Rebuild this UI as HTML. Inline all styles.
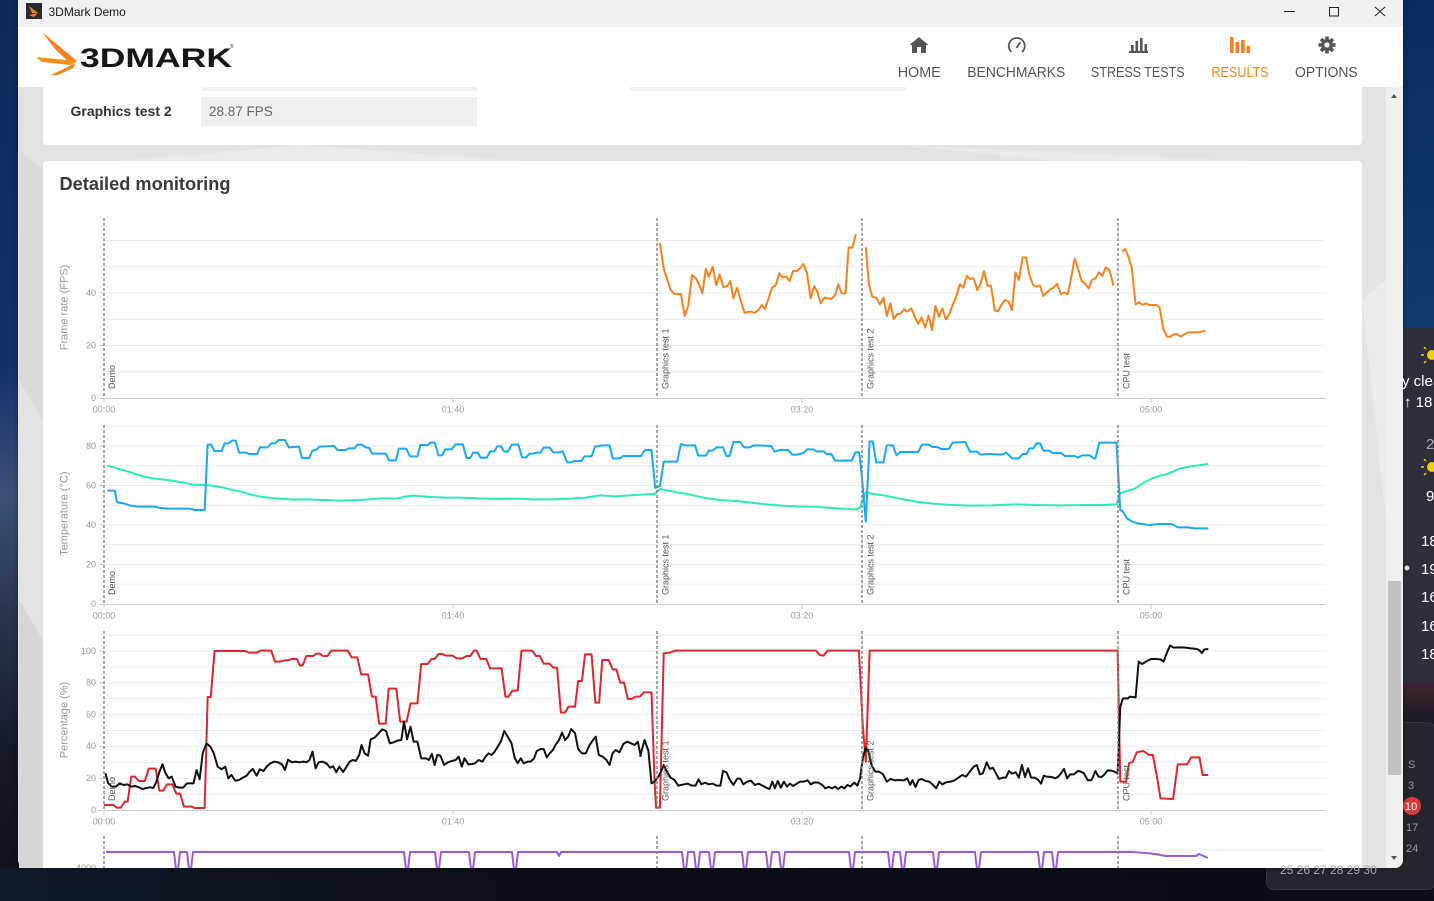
<!DOCTYPE html>
<html><head><meta charset="utf-8">
<style>
html,body{margin:0;padding:0;background:#0c0f18;}
body{width:1434px;height:901px;overflow:hidden;position:relative;background:#0c0f18;font-family:"Liberation Sans",sans-serif;}
.abs{position:absolute;}
</style></head>
<body>
<!-- desktop -->
<div class="abs" style="left:0;top:0;width:19px;height:901px;background-color:#13284a;background-image:linear-gradient(#0d2a57 0%,#12306a 40%,#3d5077 55%,#2a3550 68%,#141824 85%,#0e111b 100%);"></div>
<div class="abs" style="left:1403px;top:0;width:31px;height:330px;background-color:#0d3168;background-image:linear-gradient(#0a2b62,#123a72);"></div>
<div class="abs" style="left:1403px;top:328px;width:31px;height:354px;background:#2c303b;"></div>
<div class="abs" style="left:1403px;top:682px;width:31px;height:42px;background-color:#2a2029;background-image:linear-gradient(#3b2633,#1c1a22);"></div>
<div class="abs" style="left:1266px;top:722px;width:168px;height:166px;background:#23262e;border-radius:8px;border:1px solid #34373f;"></div>
<div class="abs" style="left:0;top:868px;width:1266px;height:33px;background-color:#0d1019;background-image:linear-gradient(90deg,#0f1a28,#0c0f18 40%,#0b0d14);"></div>

<!-- window -->
<div class="abs" style="left:18px;top:0;width:1385px;height:868px;border-radius:0 0 8px 8px;overflow:hidden;background:#e3e3e3;box-shadow:0 0 6px rgba(0,0,0,.4);">
  <div class="abs" style="left:0;top:0;width:1385px;height:27px;background:#eef0f4;"></div>
  <div class="abs" style="left:0;top:27px;width:1385px;height:60px;background:#fff;"></div>
  <div class="abs" style="left:1368px;top:87px;width:17px;height:781px;background:#f0f0f0;"></div>
  <div class="abs" style="left:1370px;top:581px;width:13px;height:194px;background:#c2c2c2;"></div>
  <div class="abs" style="left:25px;top:87px;width:1319px;height:58px;background:#fff;border-radius:0 0 4px 4px;"></div>
  <div class="abs" style="left:25px;top:161px;width:1319px;height:720px;background:#fff;border-radius:4px;"></div>
</div>

<svg class="abs" style="left:0;top:0" width="1434" height="901" viewBox="0 0 1434 901" font-family="Liberation Sans, sans-serif">
<defs>
  <clipPath id="win"><rect x="18" y="0" width="1385" height="868"/></clipPath>
</defs>

<!-- background subtle polygons -->
<g clip-path="url(#win)">
  <polygon points="19,150 43,170 43,420 19,380" fill="#dadada"/>
  <polygon points="19,600 43,640 43,868 19,868" fill="#d6d6d6"/>
  <polygon points="300,145 520,161 120,161" fill="#ebebeb"/>
  <polygon points="900,145 1250,161 1060,161" fill="#e9e9e9"/>
  <polygon points="1362,300 1386,280 1386,520" fill="#ebebeb"/>
</g>

<!-- title bar -->
<rect x="26" y="3" width="16" height="16" fill="#2b2b2b"/>
<polygon points="29,6 38,13 32,13" fill="#f5821f"/>
<polygon points="29,15 38,13 34,17" fill="#f5821f"/>
<text x="48.5" y="16" font-size="12" fill="#1a1a1a">3DMark Demo</text>
<line x1="1284" y1="11.5" x2="1295" y2="11.5" stroke="#222" stroke-width="1"/>
<rect x="1329.5" y="7.5" width="9" height="8.5" fill="none" stroke="#222" stroke-width="1"/>
<path d="M1375,7 L1385,16 M1385,7 L1375,16" stroke="#222" stroke-width="1"/>

<!-- logo -->
<polygon points="42,32 77,61 69,62 55,49" fill="#f5821f"/>
<polygon points="36,57 77,61 71,65 42,62" fill="#f39019"/>
<polygon points="51,75 76,63 73,68 58,75" fill="#f5821f"/>
<text x="80" y="67" font-size="27" font-weight="bold" fill="#161616" textLength="152" lengthAdjust="spacingAndGlyphs">3DMARK</text>
<text x="230" y="48" font-size="5" fill="#333">®</text>

<!-- nav icons -->
<g fill="#555">
  <polygon points="909.5,45 919,37 928.5,45"/>
  <rect x="912" y="44" width="14" height="9"/>
  <rect x="917" y="47" width="4" height="6" fill="#fff"/>
</g>
<path d="M1011.5,52 A8,8 0 1 1 1022,52" fill="none" stroke="#555" stroke-width="1.8"/>
<line x1="1016.5" y1="48" x2="1020.5" y2="42" stroke="#555" stroke-width="1.8"/>
<g fill="#555">
  <rect x="1129" y="51" width="19" height="2"/>
  <rect x="1131" y="45" width="2.6" height="6"/>
  <rect x="1135.5" y="41" width="2.6" height="10"/>
  <rect x="1140" y="38" width="2.6" height="13"/>
  <rect x="1144.5" y="44" width="2.6" height="7"/>
</g>
<g fill="#f5821f">
  <rect x="1230" y="37" width="3.6" height="16"/>
  <rect x="1235.5" y="42" width="3.6" height="11"/>
  <rect x="1241" y="40" width="3.6" height="13"/>
  <rect x="1246.5" y="46" width="3.6" height="7"/>
</g>
<g transform="translate(1327,45)" fill="#555">
  <circle r="6"/>
  <rect x="-1.8" y="-8.5" width="3.6" height="17"/>
  <rect x="-1.8" y="-8.5" width="3.6" height="17" transform="rotate(45)"/>
  <rect x="-1.8" y="-8.5" width="3.6" height="17" transform="rotate(90)"/>
  <rect x="-1.8" y="-8.5" width="3.6" height="17" transform="rotate(135)"/>
  <circle r="2.6" fill="#fff"/>
</g>
<g font-size="14.5" fill="#555">
  <text x="897.7" y="77" textLength="43" lengthAdjust="spacingAndGlyphs">HOME</text>
  <text x="967.3" y="77" textLength="98" lengthAdjust="spacingAndGlyphs">BENCHMARKS</text>
  <text x="1091" y="77" textLength="93.6" lengthAdjust="spacingAndGlyphs">STRESS TESTS</text>
  <text x="1211.4" y="77" textLength="57.3" lengthAdjust="spacingAndGlyphs" fill="#f5821f">RESULTS</text>
  <text x="1295" y="77" textLength="62.7" lengthAdjust="spacingAndGlyphs">OPTIONS</text>
</g>

<!-- top card -->
<rect x="201" y="87" width="276" height="4" fill="#efefef"/>
<rect x="630" y="87" width="276" height="4" fill="#efefef"/>
<rect x="201" y="97" width="276" height="29" fill="#efefef"/>
<text x="70.5" y="116" font-size="14" font-weight="bold" fill="#333">Graphics test 2</text>
<text x="209" y="116" font-size="13.5" fill="#666">28.87 FPS</text>

<!-- scroll arrows -->
<polygon points="1391,98 1397,98 1394,94" fill="#555"/>
<polygon points="1391,856 1397,856 1394,860" fill="#555"/>

<!-- detailed monitoring -->
<text x="59.5" y="190" font-size="18.5" font-weight="bold" fill="#3a3a3a" textLength="171" lengthAdjust="spacingAndGlyphs">Detailed monitoring</text>

<g clip-path="url(#win)">
<!-- gridlines -->
<g stroke="#ebebeb" stroke-width="1">
  <path d="M104,240.5H1326M104,266.75H1326M104,293H1326M104,319.25H1326M104,345.5H1326M104,371.75H1326"/>
  <path d="M104,426.25H1326M104,446H1326M104,465.75H1326M104,485.5H1326M104,505.25H1326M104,525H1326M104,544.75H1326M104,564.5H1326M104,584.25H1326"/>
  <path d="M104,635.1H1326M104,651H1326M104,666.9H1326M104,682.8H1326M104,698.7H1326M104,714.6H1326M104,730.5H1326M104,746.4H1326M104,762.3H1326M104,778.2H1326M104,794.1H1326"/>
  <path d="M104,850H1326"/>
</g>
<!-- axes -->
<g stroke="#cfcfcf" stroke-width="1">
  <path d="M104,398.5H1326M104,604.5H1326M104,810.5H1326"/>
  <path d="M104,398V403M453,398V403M802,398V403M1151,398V403"/>
  <path d="M104,604V609M453,604V609M802,604V609M1151,604V609"/>
  <path d="M104,810V815M453,810V815M802,810V815M1151,810V815"/>
  <path d="M99,398.5H104M99,345.5H104M99,293H104"/>
  <path d="M99,604.5H104M99,564.5H104M99,525H104M99,485.5H104M99,446H104"/>
  <path d="M99,810.5H104M99,778.2H104M99,746.4H104M99,714.6H104M99,682.8H104M99,651H104"/>
</g>
<!-- tick labels -->
<g font-size="9" fill="#999" text-anchor="end">
  <text x="96" y="401">0</text><text x="96" y="348.5">20</text><text x="96" y="296">40</text>
  <text x="96" y="607">0</text><text x="96" y="567.5">20</text><text x="96" y="528">40</text><text x="96" y="488.5">60</text><text x="96" y="449">80</text>
  <text x="96" y="813">0</text><text x="96" y="781">20</text><text x="96" y="749">40</text><text x="96" y="717.5">60</text><text x="96" y="685.5">80</text><text x="96" y="654">100</text>
  <text x="96" y="871">4000</text>
</g>
<g font-size="9" fill="#999" text-anchor="middle">
  <text x="104" y="412.5">00:00</text><text x="453" y="412.5">01:40</text><text x="802" y="412.5">03:20</text><text x="1151" y="412.5">05:00</text>
  <text x="104" y="618.5">00:00</text><text x="453" y="618.5">01:40</text><text x="802" y="618.5">03:20</text><text x="1151" y="618.5">05:00</text>
  <text x="104" y="824.5">00:00</text><text x="453" y="824.5">01:40</text><text x="802" y="824.5">03:20</text><text x="1151" y="824.5">05:00</text>
</g>
<!-- axis titles -->
<g font-size="11" fill="#999" text-anchor="middle">
  <text transform="translate(67.5,307.5) rotate(-90)">Frame rate (FPS)</text>
  <text transform="translate(67.5,513.7) rotate(-90)">Temperature (°C)</text>
  <text transform="translate(67.5,720) rotate(-90)">Percentage (%)</text>
</g>

<!-- series chart 1 -->
<g transform="translate(640,215) scale(0.3827,0.3333)" fill="none" stroke="#f5821f" stroke-width="2" stroke-linejoin="round">
<polyline vector-effect="non-scaling-stroke" points="52,85 62,160 80,225 90,237 107,237 117,303 126,272 136,180 145,188 155,210 163,235 172,162 180,185 190,155 199,210 208,178 218,217 228,213 236,198 244,250 254,218 264,260 273,293 290,290 300,293 310,285 318,270 327,282 345,218 355,210 364,175 373,187 382,185 391,198 400,168 410,168 418,160 427,147 436,173 446,250 455,213 464,232 472,265 482,248 500,252 510,240 518,208 527,235 537,235 545,98 555,98 564,58"/>
<polyline vector-effect="non-scaling-stroke" points="590,97 598,208 607,245 617,248 627,268 636,248 645,303 654,265 663,312 672,297 681,296 690,283 699,290 709,280 718,305 727,327 736,308 745,338 754,302 763,345 772,273 781,305 790,280 799,313 808,297 817,270 826,245 836,208 845,218 854,183 863,192 872,190 881,225 890,205 899,168 908,212 917,212 927,287 936,288 945,268 954,255 963,260 972,285 981,172 990,195 1000,127 1009,128 1018,182 1027,210 1036,215 1045,212 1054,243 1063,232 1072,223 1081,217 1090,207 1100,237 1109,233 1118,237 1127,185 1136,130 1145,163 1154,198 1163,205 1172,220 1181,195 1190,190 1199,172 1208,183 1217,157 1227,165 1237,212"/>
<polyline vector-effect="non-scaling-stroke" points="1260,110 1268,102 1276,125 1285,158 1295,268 1304,262 1313,270 1322,265 1331,270 1350,270 1358,278 1367,340 1377,365 1386,365 1395,358 1404,358 1413,365 1422,358 1432,352 1450,352 1459,352 1468,350 1477,347"/>
</g>

<!-- series chart 2 -->
<g transform="translate(90,420) scale(0.3699,0.3333)" fill="none" stroke-width="2" stroke-linejoin="round">
<polyline vector-effect="non-scaling-stroke" stroke="#30e8b8" points="47,137 80,147 110,157 140,168 170,175 210,180 250,187 280,194 310,195 330,197 360,203 390,211 410,215 430,222 460,230 500,235 550,239 590,238 630,240 680,242 730,240 790,235 830,236 850,230 875,227 920,231 960,233 1000,233 1050,235 1100,237 1150,236 1200,238 1250,238 1300,236 1340,233 1380,226 1420,229 1460,226 1500,223 1528,222"/>
<polyline vector-effect="non-scaling-stroke" stroke="#19a9f0" points="47,212 67,212 73,247 90,250 110,257 130,260 175,260 190,264 210,266 270,266 285,270 310,270 318,74 328,74 336,93 356,93 364,70 374,70 384,62 394,62 403,98 423,98 430,102 452,102 460,82 480,82 490,70 500,70 510,60 527,60 537,82 565,80 573,114 593,114 601,92 611,90 620,80 660,78 669,90 690,90 699,85 715,85 723,74 735,74 745,82 755,84 763,101 800,101 808,121 827,121 835,86 855,86 865,109 885,109 893,75 913,75 920,68 932,68 942,106 952,106 960,88 978,88 988,73 1008,73 1018,114 1028,114 1036,98 1048,98 1056,113 1073,113 1082,94 1093,94 1101,79 1111,79 1120,95 1130,95 1140,74 1158,74 1168,112 1180,112 1188,101 1198,101 1206,98 1218,98 1226,83 1243,83 1252,97 1270,97 1278,94 1290,127 1300,127 1310,123 1328,123 1337,109 1356,109 1365,80 1375,78 1385,76 1405,76 1413,115 1433,115 1441,108 1490,108 1500,90 1518,90 1528,205"/>
</g>
<g transform="translate(640,420) scale(0.3827,0.3333)" fill="none" stroke-width="2" stroke-linejoin="round">
<polyline vector-effect="non-scaling-stroke" stroke="#30e8b8" points="38,222 52,207 80,213 100,218 125,222 150,229 180,236 210,240 250,243 290,248 330,253 370,257 410,260 450,260 490,263 530,266 565,268 575,262 582,240 590,217 610,222 640,227 680,236 720,245 760,250 800,254 860,257 920,256 980,253 1040,255 1100,256 1160,255 1210,255 1245,253 1255,220 1275,212 1295,205 1320,185 1350,170 1380,161 1410,146 1440,139 1485,132"/>
<polyline vector-effect="non-scaling-stroke" stroke="#19a9f0" points="38,205 52,198 62,125 97,125 107,72 117,76 144,76 152,107 172,107 180,92 190,92 200,82 217,82 226,108 234,108 244,66 262,66 272,82 287,82 297,76 343,78 352,95 366,90 387,90 398,104 410,104 427,99 437,88 453,88 461,94 480,94 487,102 500,102 510,122 553,122 563,97 573,97 581,185 590,305 600,64 608,64 617,127 636,127 645,76 661,76 670,106 680,96 727,96 737,74 755,74 764,81 777,81 787,87 807,87 817,68 850,66 862,95 880,95 890,104 910,102 947,104 957,98 973,115 990,115 1000,102 1010,102 1018,85 1028,85 1036,70 1046,70 1054,92 1069,92 1079,99 1100,99 1110,108 1135,108 1145,113 1155,106 1175,106 1185,115 1190,115 1200,68 1245,68 1255,270 1262,275 1272,295 1287,305 1300,310 1330,315 1345,313 1360,312 1390,312 1405,322 1430,322 1450,325 1485,325"/>
</g>

<!-- series chart 3 -->
<g transform="translate(50,625) scale(0.3827,0.3333)" fill="none" stroke-width="2" stroke-linejoin="round">
<polyline vector-effect="non-scaling-stroke" stroke="#d9282d" points="141,540 165,540 175,548 185,548 195,530 203,530 212,455 222,455 232,468 248,468 258,431 276,431 286,497 296,497 306,478 320,478 330,506 340,506 350,545 370,545 378,549 404,549 412,216 420,216 430,78 510,78 520,83 540,83 550,77 578,77 588,110 600,110 610,107 625,105 632,102 645,102 653,121 660,121 670,93 688,93 696,86 705,86 713,93 725,93 735,77 778,77 788,97 803,97 813,148 831,148 841,215 851,215 860,296 877,296 885,191 905,191 915,290 932,290 942,235 960,235 970,117 987,117 997,102 1005,102 1015,87 1025,87 1035,92 1052,92 1062,100 1078,100 1088,93 1098,93 1108,77 1115,77 1125,102 1140,102 1150,130 1180,130 1190,215 1198,215 1208,197 1222,197 1232,77 1260,77 1270,93 1280,93 1290,116 1305,116 1315,128 1325,128 1335,263 1345,263 1355,245 1372,245 1380,168 1390,168 1398,88 1415,88 1425,233 1435,233 1443,105 1460,105 1470,133 1480,133 1490,173 1500,173 1510,222 1520,222 1530,215 1542,215"/>
<polyline vector-effect="non-scaling-stroke" stroke="#111" points="145,445 152,475 162,485 172,485 182,475 192,480 202,478 212,485 222,483 232,487 242,492 252,489 262,487 270,489 278,470 286,440 294,418 302,445 310,460 318,455 328,485 338,488 348,488 358,475 375,475 383,435 391,463 399,385 409,355 419,365 428,385 438,425 448,433 458,425 466,460 474,450 484,467 494,465 504,458 514,452 522,440 530,432 540,452 548,433 558,438 566,425 576,415 586,410 596,412 606,418 614,435 622,404 632,412 642,410 652,412 662,410 670,412 678,405 686,380 694,430 702,412 712,410 722,415 732,428 740,424 748,442 756,425 766,441 775,425 783,410 791,405 799,408 808,390 814,360 822,385 831,392 838,343 848,338 858,326 868,313 878,318 888,355 898,352 908,347 918,345 925,290 933,343 942,305 950,350 960,350 970,400 982,400 990,405 998,387 1005,420 1012,390 1020,392 1030,420 1040,412 1050,408 1060,405 1068,395 1076,425 1083,400 1093,418 1103,417 1110,415 1120,405 1130,410 1138,395 1146,385 1154,390 1162,380 1170,365 1178,350 1187,318 1196,335 1206,355 1214,398 1222,415 1230,400 1238,415 1248,410 1256,410 1265,400 1272,378 1282,372 1290,372 1298,397 1306,385 1314,375 1322,358 1330,345 1338,323 1346,345 1354,335 1362,312 1372,325 1380,372 1390,385 1400,385 1410,360 1418,347 1426,335 1434,390 1444,395 1454,405 1462,420 1470,385 1478,375 1488,382 1498,357 1508,350 1518,355 1528,360 1536,350 1544,395"/>
</g>
<g transform="translate(640,625) scale(0.3827,0.3333)" fill="none" stroke-width="2" stroke-linejoin="round">
<polyline vector-effect="non-scaling-stroke" stroke="#d9282d" points="0,215 10,202 30,202 38,470 42,548 52,548 62,85 80,82 92,77 460,77 470,90 480,92 490,77 572,77 582,300 590,410 600,77 1248,77 1255,470 1270,470 1278,415 1288,410 1298,382 1315,378 1330,390 1340,390 1350,450 1360,520 1393,522 1405,418 1430,418 1440,397 1462,397 1470,450 1485,450"/>
<polyline vector-effect="non-scaling-stroke" stroke="#111" points="0,395 12,345 22,378 30,475 38,470 48,455 55,440 62,420 70,440 80,458 90,465 100,482 115,478 125,476 135,482 145,482 153,463 160,478 170,473 180,478 190,476 200,482 210,482 217,438 226,442 234,463 244,480 254,461 262,461 270,478 280,470 290,467 300,480 310,476 320,482 330,488 338,492 346,470 352,490 360,468 368,488 376,470 384,485 392,476 400,483 410,476 418,470 428,470 438,466 446,478 456,472 466,473 476,480 484,490 494,486 502,490 510,485 518,492 526,485 534,490 542,480 550,484 560,473 568,482 575,460 583,395 590,368 597,380 605,420 615,440 625,440 635,448 645,470 655,462 665,466 675,465 690,466 698,460 706,480 712,466 720,486 728,465 736,462 746,468 756,470 766,480 774,490 782,470 790,478 800,472 812,470 822,466 832,458 842,450 852,455 862,440 872,425 880,420 888,448 896,445 906,412 914,432 922,428 930,445 938,462 948,458 956,458 964,438 972,446 982,442 990,458 998,420 1006,456 1014,430 1022,458 1032,458 1040,464 1048,476 1055,452 1063,455 1075,456 1085,460 1093,455 1100,445 1108,432 1116,460 1124,448 1134,448 1144,438 1152,440 1160,445 1170,466 1180,465 1190,438 1198,455 1206,456 1214,448 1222,436 1232,437 1240,440 1248,446 1255,245 1262,220 1275,220 1280,215 1295,217 1303,110 1312,117 1322,110 1335,102 1348,102 1360,103 1368,110 1378,80 1385,62 1395,68 1410,67 1425,68 1440,70 1455,72 1462,76 1468,84 1475,73 1485,72"/>
</g>

<!-- chart 4 purple -->
<path fill="none" stroke="#9a5bd6" stroke-width="2" stroke-linejoin="round" d="M106,852 H174 L177,878 L180,852 H187 L190,878 L193,852 H404 L407,878 L410,852 H435 L438,878 L441,852 H469 L472,878 L475,852 H512 L515,878 L518,852 H557 L559,856 L561,852 H682 L685,878 L688,852 H694 L697,878 L700,852 H709 L712,878 L715,852 H742 L745,878 L748,852 H766 L769,878 L772,852 H779 L782,878 L785,852 H849 L852,878 L855,852 H888 L891,878 L894,852 H900 L903,878 L906,852 H933 L936,878 L939,852 H975 L978,878 L981,852 H1038 L1041,878 L1044,852 H1052 L1055,878 L1058,852 H1132 L1146,853 L1155,854 L1166,856 L1196,856 L1199,854 L1208,858"/>

<!-- markers -->
<g stroke="#888" stroke-width="1.5" stroke-dasharray="3,2">
  <path d="M104,218V398M657,218V398M862,218V398M1118,218V398"/>
  <path d="M104,425V604M657,425V604M862,425V604M1118,425V604"/>
  <path d="M104,631V810M657,631V810M862,631V810M1118,631V810"/>
  <path d="M104,836V868M657,836V868M862,836V868M1118,836V868"/>
</g>
<g font-size="9" fill="#555">
  <text transform="translate(115,389) rotate(-90)">Demo</text>
  <text transform="translate(668.5,389) rotate(-90)">Graphics test 1</text>
  <text transform="translate(873.5,389) rotate(-90)">Graphics test 2</text>
  <text transform="translate(1129.5,389) rotate(-90)">CPU test</text>
  <text transform="translate(115,595) rotate(-90)">Demo</text>
  <text transform="translate(668.5,595) rotate(-90)">Graphics test 1</text>
  <text transform="translate(873.5,595) rotate(-90)">Graphics test 2</text>
  <text transform="translate(1129.5,595) rotate(-90)">CPU test</text>
  <text transform="translate(115,801) rotate(-90)">Demo</text>
  <text transform="translate(668.5,801) rotate(-90)">Graphics test 1</text>
  <text transform="translate(873.5,801) rotate(-90)">Graphics test 2</text>
  <text transform="translate(1129.5,801) rotate(-90)">CPU test</text>
</g>
</g>

<!-- right desktop widget text -->
<g font-size="15" fill="#fff">
  <circle cx="1432" cy="355" r="5" fill="#f5d000"/>
  <path d="M1424,355h-3M1426,349l-2,-2M1426,361l-2,2" stroke="#f5d000" stroke-width="1.5"/>
  <text x="1402" y="386">y clea</text>
  <text x="1404" y="407">↑ 18</text>
  <text x="1426" y="449" fill="#aaa">2</text>
  <circle cx="1432" cy="467" r="5" fill="#f5d000"/>
  <path d="M1424,467h-3M1426,461l-2,-2M1426,473l-2,2" stroke="#f5d000" stroke-width="1.5"/>
  <text x="1426" y="501">9</text>
  <text x="1421" y="546">18</text>
  <text x="1421" y="574">19</text>
  <text x="1421" y="602">16</text>
  <text x="1421" y="631">16</text>
  <text x="1421" y="659">18</text>
  <circle cx="1407" cy="568" r="2.5" fill="#ddd"/>
</g>
<g font-size="11" fill="#999">
  <text x="1408" y="768">S</text>
  <text x="1408" y="789">3</text>
  <circle cx="1412" cy="806" r="9" fill="#d63a3a"/>
  <text x="1405" y="810" fill="#fff">10</text>
  <text x="1406" y="831">17</text>
  <text x="1406" y="852">24</text>
  <text x="1280" y="874" fill="#aaa" font-size="12">25  26  27  28  29  30</text>
</g>
</svg>
</body></html>
